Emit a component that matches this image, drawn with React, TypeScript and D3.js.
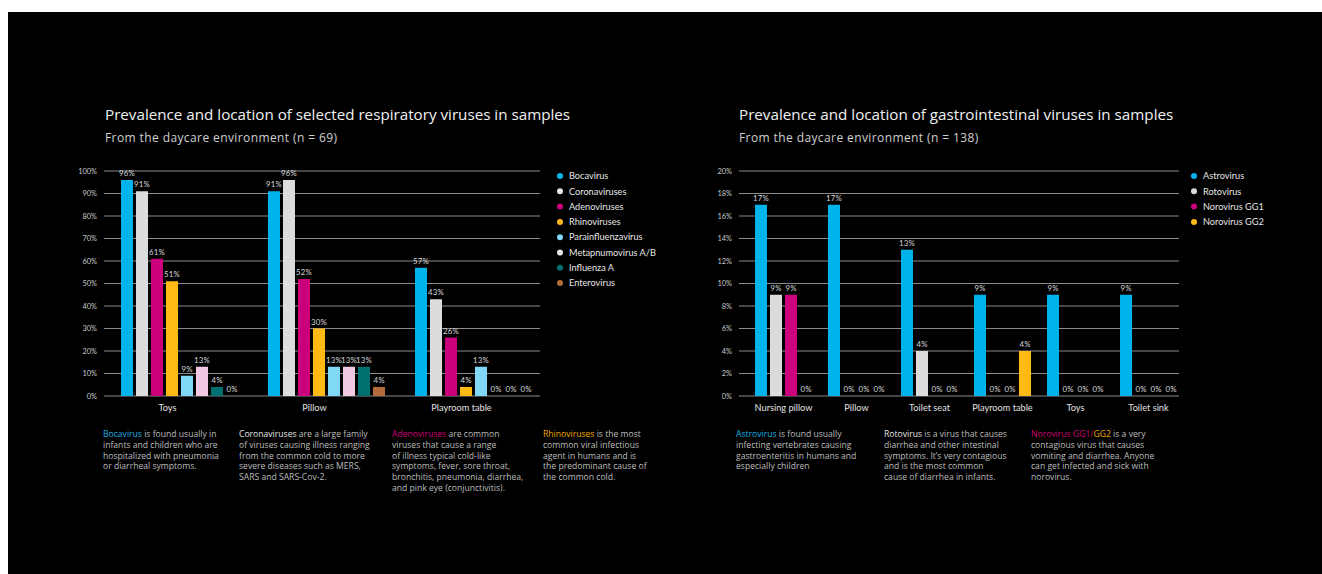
import React from 'react';
import * as d3 from 'd3';

// respiratory chart
const respLocations = ['Toys', 'Pillow', 'Playroom table'];
const respViruses = [
  'Bocavirus',
  'Coronaviruses',
  'Adenoviruses',
  'Rhinoviruses',
  'Parainfluenzavirus',
  'Metapnumovirus A/B',
  'Influenza A',
  'Enterovirus',
];
const respColors = ['#00b4eb', '#dcdcdc', '#cc007a', '#ffb914', '#80d8f7', '#f3c8e3', '#007070', '#b36b3c'];
const respLegendColors = ['#00b4eb', '#e6e6e6', '#cc007a', '#ffb914', '#80d8f7', '#e6e6e6', '#007070', '#b36b3c'];
// one row per location, one value per virus (%)
const respToys = [96, 91, 61, 51, 9, 13, 4, 0];
const respPillow = [91, 96, 52, 30, 13, 13, 13, 4];
const respPlayroom = [57, 43, 26, 4, 13, 0, 0, 0];
const respTicks = [0, 10, 20, 30, 40, 50, 60, 70, 80, 90, 100];

// gastrointestinal chart
const giLocations = ['Nursing pillow', 'Pillow', 'Toilet seat', 'Playroom table', 'Toys', 'Toilet sink'];
const giViruses = ['Astrovirus', 'Rotovirus', 'Norovirus GG1', 'Norovirus GG2'];
const giColors = ['#00b4eb', '#dcdcdc', '#cc007a', '#ffb914'];
const giAstro = [17, 17, 13, 9, 9, 9];
const giRoto = [9, 0, 4, 0, 0, 0];
const giNoro1 = [9, 0, 0, 0, 0, 0];
const giNoro2 = [0, 0, 0, 4, 0, 0];
const giTicks = [0, 2, 4, 6, 8, 10, 12, 14, 16, 18, 20];

const FONT = 'Lato, "Open Sans", sans-serif';
const WIDE = '"Open Sans", Lato, sans-serif';
const GRID = '#8a8a8a';
const TEXT = '#bdbdbd';

type Seg = { t: string; c?: string };
const respNotes: Seg[][][] = [
  [
    [{ t: 'Bocavirus', c: '#1aaee0' }, { t: ' is found usually in' }],
    [{ t: 'infants and children who are' }],
    [{ t: 'hospitalized with pneumonia' }],
    [{ t: 'or diarrheal symptoms.' }],
  ],
  [
    [{ t: 'Coronaviruses', c: '#e6e6e6' }, { t: ' are a large family' }],
    [{ t: 'of viruses causing illness ranging' }],
    [{ t: 'from the common cold to more' }],
    [{ t: 'severe diseases such as MERS,' }],
    [{ t: 'SARS and SARS-Cov-2.' }],
  ],
  [
    [{ t: 'Adenoviruses', c: '#cc007a' }, { t: ' are common' }],
    [{ t: 'viruses that cause a range' }],
    [{ t: 'of illness typical cold-like' }],
    [{ t: 'symptoms, fever, sore throat,' }],
    [{ t: 'bronchitis, pneumonia, diarrhea,' }],
    [{ t: 'and pink eye (conjunctivitis).' }],
  ],
  [
    [{ t: 'Rhinoviruses', c: '#f0a800' }, { t: ' is the most' }],
    [{ t: 'common viral infectious' }],
    [{ t: 'agent in humans and is' }],
    [{ t: 'the predominant cause of' }],
    [{ t: 'the common cold.' }],
  ],
];
const respNoteX = [103, 239, 392, 543];

const giNotes: Seg[][][] = [
  [
    [{ t: 'Astrovirus', c: '#1aaee0' }, { t: ' is found usually' }],
    [{ t: 'infecting vertebrates causing' }],
    [{ t: 'gastroenteritis in humans and' }],
    [{ t: 'especially children' }],
  ],
  [
    [{ t: 'Rotovirus', c: '#e6e6e6' }, { t: ' is a virus that causes' }],
    [{ t: 'diarrhea and other intestinal' }],
    [{ t: 'symptoms. It\u2019s very contagious' }],
    [{ t: 'and is the most common' }],
    [{ t: 'cause of diarrhea in infants.' }],
  ],
  [
    [{ t: 'Norovirus GG1/', c: '#cc007a' }, { t: 'GG2', c: '#f0a800' }, { t: ' is a very' }],
    [{ t: 'contagious virus that causes' }],
    [{ t: 'vomiting and diarrhea. Anyone' }],
    [{ t: 'can get infected and sick with' }],
    [{ t: 'norovirus.' }],
  ],
];
const giNoteX = [736, 884, 1031];

interface ChartProps {
  title: string;
  subtitle: string;
  left: number; // title x
  axisX: number; // tick label right edge
  gridX: [number, number];
  bandRange: [number, number];
  bandPadding: number;
  labelShift: number;
  locations: string[];
  viruses: string[];
  colors: string[];
  legendColors: string[];
  rows: number[][];
  ticks: number[];
  max: number;
  legendX: number;
  notes: Seg[][][];
  noteX: number[];
}

const Notes: React.FC<{ notes: Seg[][][]; xs: number[] }> = ({ notes, xs }) => (
  <g fontFamily={WIDE} fontSize={8.6} fill={TEXT}>
    {notes.map((lines, i) =>
      lines.map((segs, j) => (
        <text key={`${i}-${j}`} x={xs[i]} y={437 + j * 10.8}>
          {segs.map((s, k) => (
            <tspan key={k} fill={s.c || TEXT}>
              {s.t}
            </tspan>
          ))}
        </text>
      ))
    )}
  </g>
);

const BarChart: React.FC<ChartProps> = (p) => {
  const y = d3.scaleLinear().domain([0, p.max]).range([396, 171]);
  const x0 = d3.scaleBand<string>().domain(p.locations).range(p.bandRange).paddingInner(p.bandPadding).paddingOuter(0);
  const x1 = d3.scaleBand<string>().domain(p.viruses).range([0, x0.bandwidth()]).paddingInner(0.2).paddingOuter(0);

  return (
    <g>
      <text x={p.left} y={120} fontFamily={WIDE} fontSize={15.2} fill="#f0f0f0">
        {p.title}
      </text>
      <text x={p.left} y={142} fontFamily={WIDE} fontSize={12} letterSpacing={0.4} fill="#d0d0d0">
        {p.subtitle}
      </text>

      {p.ticks.map((t) => (
        <g key={t}>
          <line x1={p.gridX[0]} x2={p.gridX[1]} y1={y(t)} y2={y(t)} stroke={GRID} strokeWidth={1} />
          <text
            x={p.axisX}
            y={y(t)}
            dy="0.35em"
            textAnchor="end"
            fontFamily={FONT}
            fontSize={7.4}
            fill="#c8c8c8"
          >
            {t}%
          </text>
        </g>
      ))}

      {p.locations.map((loc, li) => (
        <g key={loc} transform={`translate(${x0(loc)},0)`}>
          {p.viruses.map((v, vi) => {
            const val = p.rows[li][vi];
            const bx = x1(v)!;
            return (
              <g key={v}>
                {val > 0 && (
                  <rect x={bx} y={y(val)} width={x1.bandwidth()} height={y(0) - y(val)} fill={p.colors[vi]} />
                )}
                <text
                  x={bx + x1.bandwidth() / 2}
                  y={y(val) - 4}
                  textAnchor="middle"
                  fontFamily={FONT}
                  fontSize={7.8}
                  letterSpacing={0.2}
                  fill="#d8d8d8"
                >
                  {val}%
                </text>
              </g>
            );
          })}
          <text
            x={x0.bandwidth() / 2 + p.labelShift}
            y={411}
            textAnchor="middle"
            fontFamily={FONT}
            fontSize={9.2}
            fill="#e0e0e0"
          >
            {loc}
          </text>
        </g>
      ))}

      {p.viruses.map((v, i) => (
        <g key={v} transform={`translate(${p.legendX},${176 + i * 15.3})`}>
          <circle r={3} fill={p.legendColors[i]} />
          <text x={9} dy="0.35em" fontFamily={FONT} fontSize={9.2} fill="#e6e6e6">
            {v}
          </text>
        </g>
      ))}

      <Notes notes={p.notes} xs={p.noteX} />
    </g>
  );
};

export default function App() {
  const giRows = giLocations.map((_, i) => [giAstro[i], giRoto[i], giNoro1[i], giNoro2[i]]);

  return (
    <>
      <style>{'html,body{overflow:hidden;margin:0;background:#fff;}'}</style>
      <svg
        width={1340}
        height={600}
        style={{ position: 'absolute', left: 8, top: 12, display: 'block', background: '#000' }}
      >
        <g transform="translate(-8,-12)">
          <BarChart
            title="Prevalence and location of selected respiratory viruses in samples"
            subtitle="From the daycare environment (n = 69)"
            left={105}
            axisX={97}
            gridX={[104, 540]}
            bandRange={[121, 532]}
            bandPadding={30 / 147}
            labelShift={-12}
            locations={respLocations}
            viruses={respViruses}
            colors={respColors}
            legendColors={respLegendColors}
            rows={[respToys, respPillow, respPlayroom]}
            ticks={respTicks}
            max={100}
            legendX={560}
            notes={respNotes}
            noteX={respNoteX}
          />
          <BarChart
            title="Prevalence and location of gastrointestinal viruses in samples"
            subtitle="From the daycare environment (n = 138)"
            left={739}
            axisX={732}
            gridX={[739, 1179]}
            bandRange={[755, 1177]}
            bandPadding={16 / 73}
            labelShift={0}
            locations={giLocations}
            viruses={giViruses}
            colors={giColors}
            legendColors={giColors}
            rows={giRows}
            ticks={giTicks}
            max={20}
            legendX={1194}
            notes={giNotes}
            noteX={giNoteX}
          />
        </g>
      </svg>
    </>
  );
}
